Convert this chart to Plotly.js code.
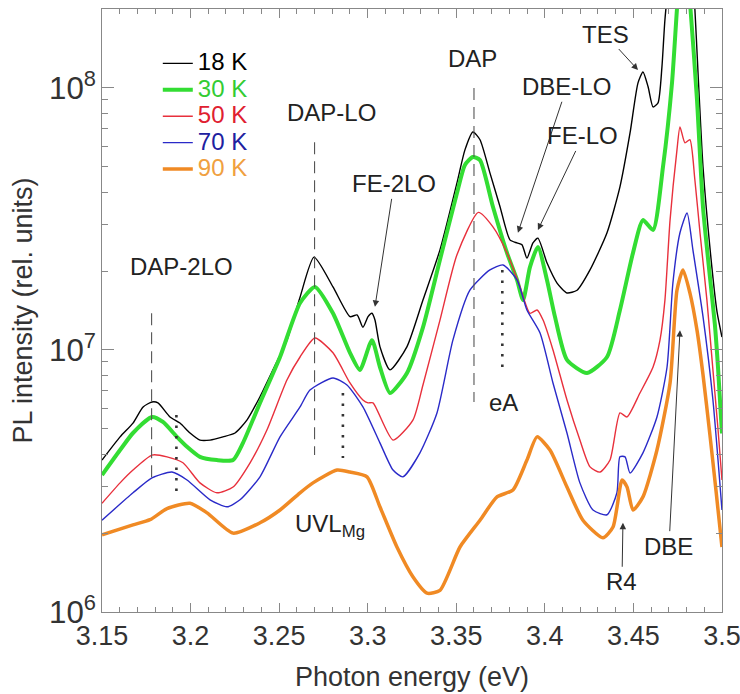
<!DOCTYPE html>
<html><head><meta charset="utf-8">
<script src="https://cdn.plot.ly/plotly-3.0.1.min.js"></script>
<style>html,body{margin:0;padding:0;background:#fff}#chart{width:740px;height:694px}</style>
</head><body><div id="chart"></div>
<script>
// ---- data (photon energy in eV, PL intensity in rel. units) ----
const e18=[3.1500,3.1602,3.1675,3.1732,3.1782,3.1816,3.1884,3.1940,3.1997,3.2053,3.2110,3.2183,3.2251,3.2319,3.2392,3.2465,3.2544,3.2618,3.2697,3.2804,3.2900,3.2940,3.2973,3.3002,3.3024,3.3041,3.3069,3.3126,3.3222,3.3312,3.3408,3.3504,3.3549,3.3594,3.3634,3.3690,3.3747,3.3803,3.3843,3.3871,3.3899,3.3933,3.3961,3.4012,3.4069,3.4125,3.4182,3.4255,3.4351,3.4424,3.4481,3.4526,3.4554,3.4583,3.4611,3.4639,3.4661,3.4678,3.4720,3.4780,3.4820,3.4847,3.4893,3.4943,3.4972,3.5000];
const i18=[3.80e6,4.66e6,5.26e6,6.06e6,6.33e6,6.28e6,5.55e6,5.26e6,4.82e6,4.53e6,4.53e6,4.66e6,4.82e6,5.41e6,6.63e6,8.39e6,1.09e7,1.59e7,2.26e7,1.74e7,1.34e7,1.36e7,1.22e7,1.34e7,1.38e7,1.30e7,1.03e7,8.39e6,1.03e7,1.55e7,2.41e7,4.34e7,5.8e7,6.79e7,6.34e7,4.74e7,3.52e7,2.63e7,2.56e7,2.52e7,2.24e7,2.56e7,2.67e7,2.15e7,1.80e7,1.65e7,1.69e7,2.02e7,2.80e7,4.19e7,6.73e7,1.045e8,1.15e8,1.01e8,8.46e7,8.77e7,1.20e8,1.82e8,3.5e8,8e8,4e8,2.0e8,5.0e7,2.07e7,1.40e7,1.12e7];

const e30=[3.1500,3.1602,3.1675,3.1782,3.1844,3.1923,3.1980,3.2053,3.2149,3.2240,3.2296,3.2392,3.2505,3.2618,3.2702,3.2804,3.2900,3.2956,3.3024,3.3069,3.3126,3.3222,3.3312,3.3408,3.3504,3.3549,3.3594,3.3634,3.3707,3.3786,3.3843,3.3877,3.3916,3.3961,3.4012,3.4057,3.4125,3.4238,3.4351,3.4424,3.4498,3.4554,3.4611,3.4667,3.4718,3.4746,3.4780,3.4820,3.4859,3.4893,3.4932,3.4960,3.4978,3.5000];
const i30=[3.33e6,4.15e6,4.82e6,5.55e6,5.31e6,4.66e6,4.27e6,3.91e6,3.80e6,3.80e6,4.42e6,6.28e6,9.4e6,1.51e7,1.74e7,1.38e7,9.75e6,8.39e6,1.09e7,8.61e6,6.85e6,8.17e6,1.22e7,2.21e7,3.97e7,5.08e7,5.45e7,5.3e7,3.52e7,2.35e7,1.85e7,1.55e7,2.07e7,2.47e7,1.85e7,1.34e7,9.16e6,8.17e6,9.4e6,1.42e7,2.35e7,3.13e7,2.87e7,4.99e7,1.045e8,2.0e8,4e8,2.1e8,9.0e7,3.5e7,1.9e7,1.25e7,8.5e6,4.8e6];

const e50=[3.1500,3.1602,3.1675,3.1782,3.1867,3.1957,3.2053,3.2149,3.2240,3.2336,3.2431,3.2544,3.2618,3.2702,3.2804,3.2900,3.2973,3.3002,3.3030,3.3143,3.3256,3.3312,3.3408,3.3504,3.3625,3.3707,3.3786,3.3860,3.3916,3.3956,3.3990,3.4046,3.4125,3.4198,3.4255,3.4311,3.4368,3.4424,3.4464,3.4537,3.4611,3.4650,3.4678,3.4707,3.4746,3.4763,3.4791,3.4819,3.4847,3.4876,3.4915,3.4949,3.4978,3.5000];
const i50=[2.60e6,3.11e6,3.48e6,3.97e6,3.91e6,3.71e6,3.11e6,2.85e6,3.0e6,3.71e6,4.95e6,7.68e6,9.4e6,1.11e7,9.75e6,7.48e6,6.44e6,6.28e6,6.28e6,4.53e6,5.41e6,7.35e6,1.30e7,2.31e7,3.35e7,2.95e7,2.35e7,1.74e7,1.38e7,1.42e7,1.30e7,1.0e7,6.44e6,4.53e6,3.58e6,3.42e6,3.80e6,5.75e6,5.55e6,6.85e6,8.61e6,1.09e7,1.55e7,3.13e7,5.8e7,7.1e7,6.17e7,6.34e7,4.46e7,2.80e7,1.55e7,8.39e6,4.95e6,3.19e6];

const e70=[3.1500,3.1675,3.1782,3.1895,3.1980,3.2110,3.2206,3.2279,3.2392,3.2505,3.2618,3.2674,3.2804,3.2883,3.2973,3.3069,3.3143,3.3199,3.3295,3.3391,3.3481,3.3577,3.3690,3.3764,3.3843,3.3899,3.3973,3.4046,3.4125,3.4198,3.4272,3.4351,3.4407,3.4424,3.4453,3.4481,3.4554,3.4633,3.4690,3.4723,3.4763,3.4803,3.4836,3.4893,3.4949,3.5000];
const i70=[2.24e6,2.85e6,3.25e6,3.42e6,3.19e6,2.68e6,2.52e6,2.68e6,3.28e6,4.66e6,6.06e6,7.03e6,7.82e6,7.35e6,6.06e6,4.42e6,3.48e6,3.28e6,4.05e6,5.75e6,1.09e7,1.69e7,2.02e7,2.11e7,1.85e7,1.42e7,1.16e7,7.48e6,4.82e6,3.11e6,2.45e6,2.35e6,2.85e6,3.91e6,3.91e6,3.39e6,4.05e6,5.55e6,8.61e6,1.80e7,2.80e7,3.33e7,2.41e7,1.34e7,6.44e6,2.45e6];

const e90=[3.1500,3.1675,3.1771,3.1867,3.1997,3.2093,3.2240,3.2392,3.2505,3.2618,3.2691,3.2827,3.2900,3.2996,3.3069,3.3165,3.3256,3.3335,3.3408,3.3521,3.3634,3.3730,3.3820,3.3899,3.3956,3.4029,3.4125,3.4215,3.4328,3.4385,3.4436,3.4464,3.4498,3.4554,3.4633,3.4707,3.4746,3.4780,3.4819,3.4859,3.4893,3.4932,3.4966,3.5000];
const i90=[1.97e6,2.15e6,2.25e6,2.48e6,2.60e6,2.39e6,2.0e6,2.19e6,2.45e6,2.85e6,3.11e6,3.48e6,3.42e6,3.28e6,2.52e6,1.77e6,1.36e6,1.18e6,1.21e6,1.77e6,2.24e6,2.75e6,2.92e6,3.80e6,4.66e6,4.15e6,3.0e6,2.24e6,1.92e6,2.11e6,3.19e6,3.0e6,2.45e6,2.75e6,4.15e6,7.48e6,1.69e7,2.02e7,1.65e7,1.19e7,8.04e6,4.74e6,2.92e6,1.77e6];

const seriesNames=['18 K','30 K','50 K','70 K','90 K'];

// marker lines (peak positions)
const dashE=[3.178,3.270,3.360];
const dashTop=[1.38e7,6.2e7,1.0e8];
const dashBottom=[3.27e6,3.97e6,6.33e6];
const dotE=[3.192,3.286,3.376];
const dotTop=[5.65e6,6.85e6,2.02e7];
const dotBottom=[2.8e6,3.87e6,8.17e6];

// plain labels
const labelText=['DAP-2LO','DAP-LO','DAP','eA','UVL<sub>Mg</sub>'];
const labelE=[3.1946,3.2793,3.3589,3.3764,3.2787];
const labelI=[2.09e7,8.09e7,1.30e8,6.28e6,2.13e6];

// arrowed labels: arrow tip (E, I) and label offset from tip (px)
const arrowText=['FE-2LO','DBE-LO','FE-LO','TES','R4','DBE'];
const arrowE=[3.3041,3.3848,3.3961,3.4526,3.4441,3.4763];
const arrowI=[1.46e7,2.80e7,2.87e7,1.17e8,2.19e6,1.19e7];
const arrowAx=[19,49,45,-33,-1,-11];
const arrowAy=[-123,-146,-94,-36,59,216];

// ---- styling ----
const colors=['#000000','#33dd33','#e8303c','#2a2ac8','#f08a24'];
const labelColors=['#000000','#33cc33','#e02030','#2020a0','#f0a040'];
const widths=[1.4,4,1.4,1.4,3.5];
const xs=[e18,e30,e50,e70,e90], ys=[i18,i30,i50,i70,i90];

const traces=xs.map((x,k)=>({
  x:x, y:ys[k], type:'scatter', mode:'lines',
  name:'<span style="font-size:24px;color:'+labelColors[k]+'">'+seriesNames[k]+'</span>',
  line:{color:colors[k], width:widths[k], shape:'spline', smoothing:0.6},
  hoverinfo:'skip'
}));

function vlines(E,top,bot){
  const x=[],y=[];
  E.forEach((e,k)=>{x.push(e,e,null);y.push(top[k],bot[k],null);});
  return {x,y};
}
const d1=vlines(dashE,dashTop,dashBottom);
traces.push({x:d1.x,y:d1.y,type:'scatter',mode:'lines',showlegend:false,hoverinfo:'skip',
  line:{color:'#555',width:1.1,dash:'12px,7px'}});
const d2=vlines(dotE,dotTop,dotBottom);
traces.push({x:d2.x,y:d2.y,type:'scatter',mode:'lines',showlegend:false,hoverinfo:'skip',
  line:{color:'#333',width:2.6,dash:'2.5px,8px'}});

const annotations=[];
labelText.forEach((t,k)=>annotations.push({
  x:labelE[k], y:Math.log10(labelI[k]), xref:'x', yref:'y', text:t, showarrow:false,
  font:{size:24,color:'#222'}, xanchor:'center', yanchor:'middle'
}));
arrowText.forEach((t,k)=>annotations.push({
  x:arrowE[k], y:Math.log10(arrowI[k]), xref:'x', yref:'y', text:t, showarrow:true,
  font:{size:24,color:'#222'},
  ax:arrowAx[k], ay:arrowAy[k], arrowhead:2, arrowsize:1.3, arrowwidth:1, arrowcolor:'#333', standoff:0
}));

const axisCommon={showline:true, linecolor:'#888', linewidth:1, mirror:'ticks', ticks:'inside',
  tickcolor:'#888', tickwidth:1, showgrid:false, zeroline:false, automargin:false};

const layout={
  width:740, height:694,
  margin:{l:102,r:18,t:9,b:82},
  paper_bgcolor:'#fff', plot_bgcolor:'#fff',
  font:{family:'Liberation Sans, Arial, sans-serif', color:'#333'},
  showlegend:true,
  legend:{x:0.09, y:0.94, xanchor:'left', yanchor:'top', bgcolor:'rgba(0,0,0,0)',
    font:{size:18}, itemwidth:30, tracegroupgap:0},
  xaxis:Object.assign({}, axisCommon, {
    range:[3.15,3.50002], tick0:3.15, dtick:0.05, ticklen:9, ticklabeloverflow:'allow',
    tickfont:{size:27,color:'#333'},
    minor:{dtick:0.01, ticks:'inside', ticklen:5, tickcolor:'#888', showgrid:false},
    title:{text:'Photon energy (eV)', font:{size:27,color:'#333'}, standoff:16}
  }),
  yaxis:Object.assign({}, axisCommon, {
    type:'log', range:[6, Math.log10(2e8)], dtick:1, exponentformat:'power', ticklen:12,
    tickfont:{size:25,color:'#333'},
    minor:{dtick:'D1', ticks:'inside', ticklen:6, tickcolor:'#888', showgrid:false},
    title:{text:'PL intensity (rel. units)', font:{size:27,color:'#333'}, standoff:8}
  }),
  annotations:annotations
};

Plotly.newPlot('chart', traces, layout, {displayModeBar:false, staticPlot:true});
</script>
</body></html>
